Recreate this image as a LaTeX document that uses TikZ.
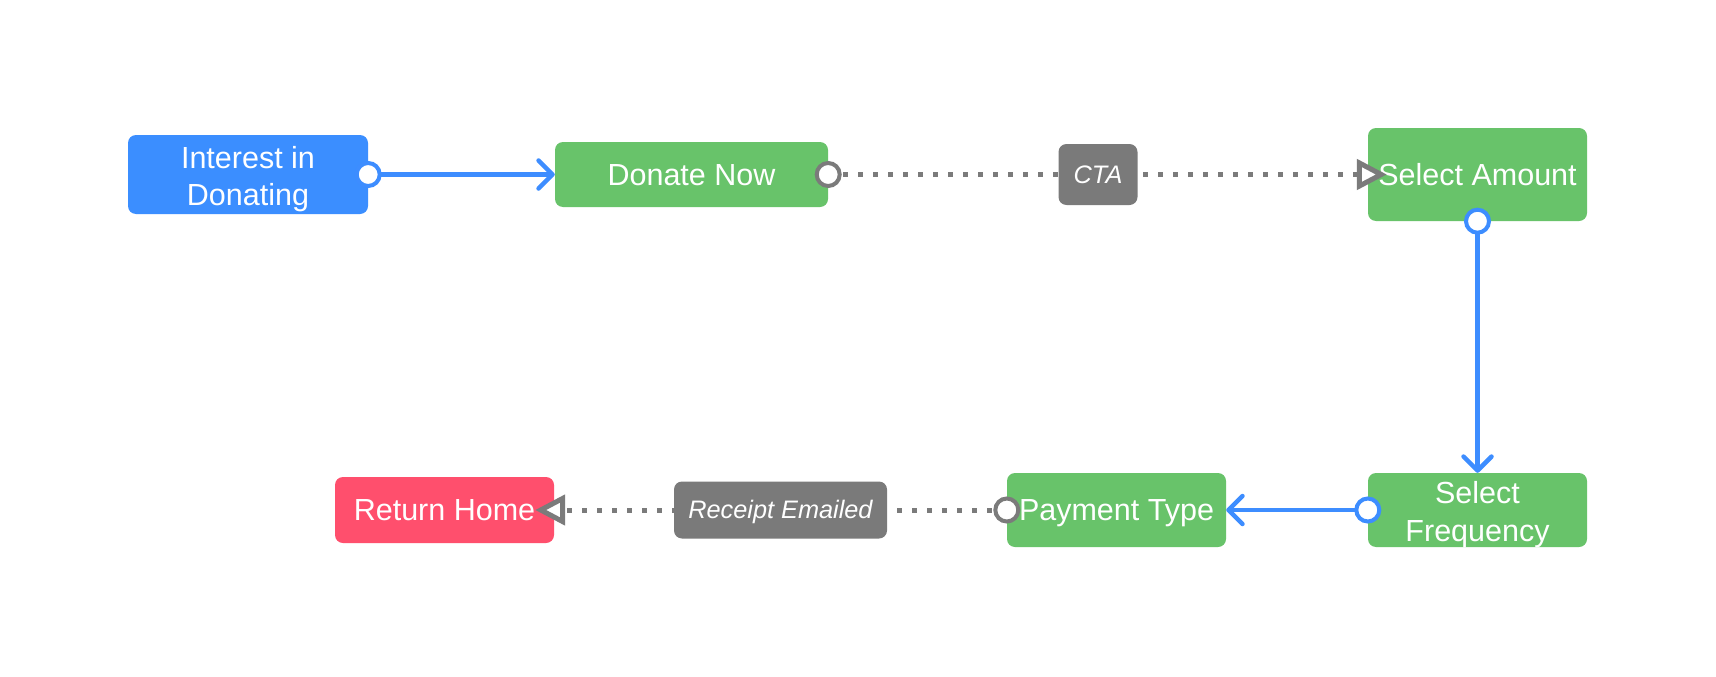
\documentclass[tikz,border=0pt]{standalone}
\usepackage{fontspec}
\setmainfont{Liberation Sans}
\usetikzlibrary{arrows.meta}
\definecolor{boxblue}{HTML}{3B8EFF}
\definecolor{boxgreen}{HTML}{68C36A}
\definecolor{boxred}{HTML}{FF4F6D}
\definecolor{labgray}{HTML}{7A7A7A}
\definecolor{lineblue}{HTML}{3D8DFF}
\definecolor{linegray}{HTML}{7B7B7B}
\begin{document}
\begin{tikzpicture}[x=1pt,y=-1pt,
 box/.style={rectangle, rounded corners=8pt, inner sep=0pt, text=white, font=\fontsize{30.5}{37.5}\selectfont, text height=27.6pt, text depth=6.5pt},
 twoline/.style={text height=68pt, text depth=5.8pt},
 lab/.style={box, fill=labgray, font=\fontsize{25.3}{30}\selectfont\itshape, text height=22.9pt, text depth=5.4pt},
 flow/.style={draw=lineblue, line width=4.5pt, -{Straight Barb[length=14pt,width=28pt,line cap=round,line join=round]}},
 dots/.style={draw=linegray, line width=5pt, dash pattern=on 5pt off 10pt, -{Triangle[open,fill=white,length=30pt,width=30pt,line width=5pt]}, shorten >=-19pt},
 bport/.style={draw=lineblue, line width=4pt, fill=white},
 gport/.style={draw=linegray, line width=4pt, fill=white},
]
\useasboundingbox[fill=white] (0,0) rectangle (1716,677);
\node[box, twoline, fill=boxblue, minimum width=240pt, minimum height=79pt] (int) at (248,174.5) {\begin{tabular}[b]{@{}c@{}}Interest in\\Donating\end{tabular}};
\node[box, fill=boxgreen, minimum width=273pt, minimum height=65pt] (don) at (691.5,174.5) {Donate Now};
\node[box, fill=boxgreen, minimum width=219pt, minimum height=93pt] (amt) at (1477.5,174.5) {Select Amount};
\node[box, twoline, fill=boxgreen, minimum width=219pt, minimum height=74pt] (freq) at (1477.5,510) {\begin{tabular}[b]{@{}c@{}}Select\\Frequency\end{tabular}};
\node[box, fill=boxgreen, minimum width=219pt, minimum height=74pt] (pay) at (1116.5,510) {Payment Type};
\node[box, fill=boxred, minimum width=219pt, minimum height=66pt] (ret) at (444.5,510) {Return Home};

\draw[flow] (int.east) -- (don.west);
\draw[dots] (don.east) -- node[lab, minimum width=79pt, minimum height=61pt] (cta) {CTA} (amt.west);
\draw[flow] (amt.south) -- (freq.north);
\draw[flow] (freq.west) -- (pay.east);
\draw[dots] (pay.west) -- node[lab, minimum width=213pt, minimum height=57pt] (rec) {Receipt Emailed} (ret.east);

\draw[bport] (int.east) circle (11.5pt);
\draw[gport] (don.east) circle (11.5pt);
\draw[bport] (amt.south) circle (11.5pt);
\draw[bport] (freq.west) circle (11.5pt);
\draw[gport] (pay.west) circle (11.5pt);
\end{tikzpicture}
\end{document}
